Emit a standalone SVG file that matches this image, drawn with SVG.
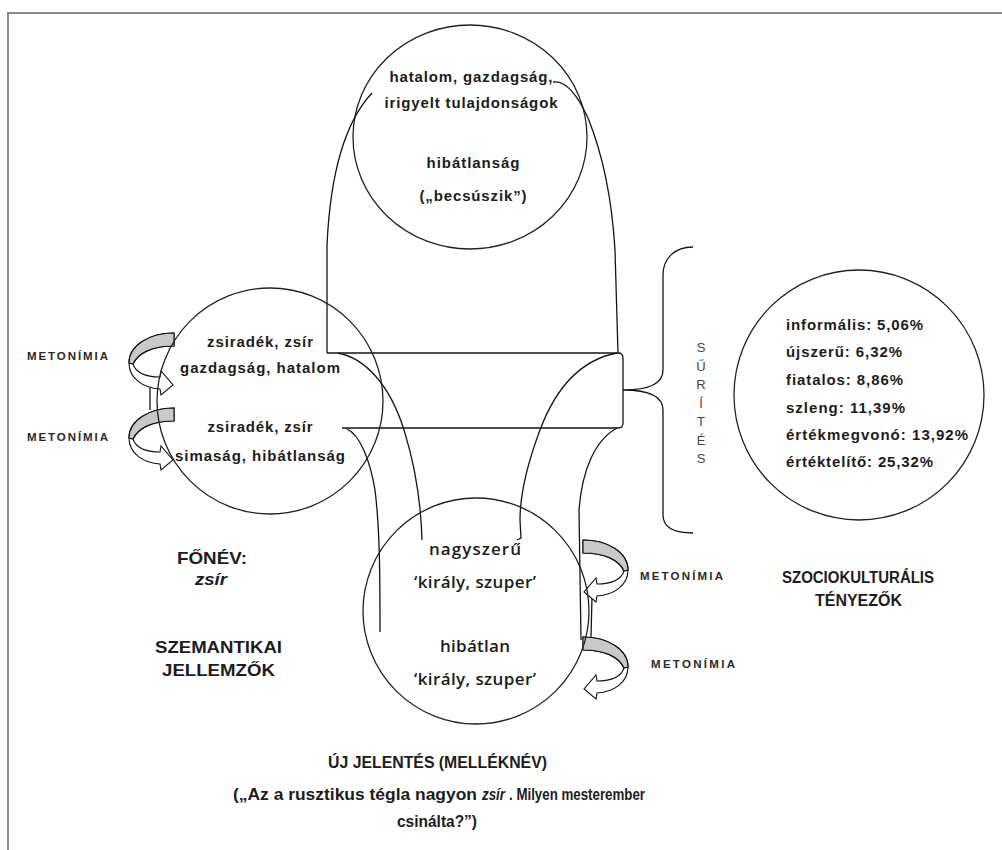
<svg xmlns="http://www.w3.org/2000/svg" xmlns:xlink="http://www.w3.org/1999/xlink" width="1002" height="850" viewBox="0 0 1002 850">
<style>
.frame{fill:none;stroke:#8a8a8a;stroke-width:2}
.ln{fill:none;stroke:#151515;stroke-width:1.3}
.c{fill:none;stroke:#222;stroke-width:1.3}
.aw{fill:#fff;stroke:#111;stroke-width:1.1}
.ag{fill:#c9c9c9;stroke:#111;stroke-width:1.1}
.t{font-family:"Liberation Sans",Arial,sans-serif;font-weight:bold;font-size:15px;fill:#1c1c1c;text-anchor:middle}
.r{font-family:"Liberation Sans",Arial,sans-serif;font-weight:bold;font-size:15px;fill:#1c1c1c}
.b{font-family:"Open Sans","Noto Sans",sans-serif;font-weight:600;font-size:17px;fill:#1c1c1c;text-anchor:middle}
.lab{font-family:"Liberation Sans",Arial,sans-serif;font-weight:bold;font-size:16px;fill:#1c1c1c;text-anchor:middle}
.labs{font-family:"Liberation Sans",Arial,sans-serif;font-weight:bold;font-size:16px;fill:#1c1c1c}
.met{font-family:"Liberation Sans",Arial,sans-serif;font-weight:bold;font-size:11.5px;fill:#2a2a2a}
.sur{font-family:"Liberation Sans",Arial,sans-serif;font-size:13px;fill:#444;text-anchor:middle}
</style>
<defs>
<g id="arr">
<path class="aw" d="M0,0 C24,0 45,12 45,30 C45,46 30,55 14,56 L13,62 L1,52 L13,38 L14,44 C28,44 38,40 41,31 C36,20 22,13 0,13 Z"/>
<path class="ag" d="M0,0 C24,0 45,12 45,30 L41,31 C36,20 22,13 0,13 Z"/>
</g>
</defs>
<rect width="1002" height="850" fill="#fff"/>
<path class="frame" d="M8,850 L8,13 L1002,13"/>

<g id="connectors">
<path class="ln" d="M327,353 L327,245 C330,180 342,125 372,93"/>
<path class="ln" d="M553,82 C566,80 578,96 588,118 C603,155 612,200 615,250 L618,353"/>
<path class="ln" d="M327,353 L618,353 Q623,353 623,358 L623,423 Q623,428 618,428 L342,428"/>
<path class="ln" d="M338,353 C365,358 390,385 404,430 C415,465 421,505 422,540"/>
<path class="ln" d="M347,429 C360,435 370,460 375,490 C380,530 380,580 380,632"/>
<path class="ln" d="M617,353 C580,360 555,390 540,430 C528,462 520,495 520,520 L521,538 L517,540"/>
<path class="ln" d="M617,428 C595,440 582,470 579,510 L581,640"/>
<path class="ln" d="M693,247 C675,247 663,258 663,275 L663,370 C663,383 650,390 623,390 C650,390 663,397 663,410 L663,515 C663,528 675,533 693,533"/>
<path class="ln" d="M150,383 L150,410"/>
<path class="ln" d="M592,597 L591,637"/>
<use xlink:href="#arr" href="#arr" transform="translate(174,333) scale(-1,1)"/>
<use xlink:href="#arr" href="#arr" transform="translate(174,408) scale(-1,1)"/>
<use xlink:href="#arr" href="#arr" transform="translate(583,540)"/>
<use xlink:href="#arr" href="#arr" transform="translate(583,637)"/>
</g>

<g id="node-top">
<ellipse class="c" cx="470" cy="137" rx="117" ry="112"/>
<text class="t" x="471" y="82" textLength="163">hatalom, gazdagság,</text>
<text class="t" x="471" y="108" textLength="173">irigyelt tulajdonságok</text>
<text class="t" x="473" y="168" textLength="93">hibátlanság</text>
<text class="t" x="473" y="201" textLength="107">(„becsúszik”)</text>
</g>

<g id="node-left">
<circle class="c" cx="270" cy="401" r="113"/>
<text class="t" x="260" y="347" textLength="106">zsiradék, zsír</text>
<text class="t" x="260" y="373" textLength="160">gazdagság, hatalom</text>
<text class="t" x="260" y="432" textLength="105">zsiradék, zsír</text>
<text class="t" x="260" y="461" textLength="170">simaság, hibátlanság</text>
</g>

<g id="node-bottom">
<circle class="c" cx="476" cy="611" r="113"/>
<text class="b" x="475" y="555" textLength="92">nagyszerű</text>
<text class="b" x="475" y="588" textLength="122">‘király, szuper’</text>
<text class="b" x="475" y="652" textLength="70">hibátlan</text>
<text class="b" x="475" y="685" textLength="122">‘király, szuper’</text>
</g>

<g id="node-right">
<circle class="c" cx="859" cy="395" r="125"/>
<text class="r" x="786" y="330" textLength="137">informális: 5,06%</text>
<text class="r" x="786" y="357" textLength="116">újszerű: 6,32%</text>
<text class="r" x="786" y="385" textLength="117">fiatalos: 8,86%</text>
<text class="r" x="786" y="413" textLength="119">szleng: 11,39%</text>
<text class="r" x="786" y="440" textLength="182">értékmegvonó: 13,92%</text>
<text class="r" x="786" y="467" textLength="147">értéktelítő: 25,32%</text>
</g>

<g id="label-surites">
<text class="sur" x="701" y="352">S</text>
<text class="sur" x="701" y="371">Ű</text>
<text class="sur" x="701" y="389">R</text>
<text class="sur" x="701" y="408">Í</text>
<text class="sur" x="701" y="426">T</text>
<text class="sur" x="701" y="445">É</text>
<text class="sur" x="701" y="463">S</text>
</g>

<g id="label-metonimia">
<text class="met" x="27" y="360" textLength="81">METONÍMIA</text>
<text class="met" x="27" y="441" textLength="81">METONÍMIA</text>
<text class="met" x="640" y="580" textLength="83">METONÍMIA</text>
<text class="met" x="651" y="668" textLength="84">METONÍMIA</text>
</g>

<g id="label-fonev">
<text class="lab" x="212" y="564" textLength="70" lengthAdjust="spacingAndGlyphs" style="font-size:17px">FŐNÉV:</text>
<text class="lab" x="211" y="585" textLength="32" lengthAdjust="spacingAndGlyphs" style="font-style:italic">zsír</text>
</g>

<g id="label-szemantikai">
<text class="lab" x="218.5" y="653" textLength="127" lengthAdjust="spacingAndGlyphs" style="font-size:17px">SZEMANTIKAI</text>
<text class="lab" x="218.5" y="676" textLength="113" lengthAdjust="spacingAndGlyphs" style="font-size:17px">JELLEMZŐK</text>
</g>

<g id="label-szocio">
<text class="lab" x="858" y="583" textLength="152" lengthAdjust="spacingAndGlyphs">SZOCIOKULTURÁLIS</text>
<text class="lab" x="858.5" y="606" textLength="87" lengthAdjust="spacingAndGlyphs">TÉNYEZŐK</text>
</g>

<g id="label-uj">
<text class="lab" x="437.5" y="768" textLength="219" lengthAdjust="spacingAndGlyphs">ÚJ JELENTÉS (MELLÉKNÉV)</text>
<text class="labs" x="233" y="800" textLength="244" lengthAdjust="spacingAndGlyphs">(„Az a rusztikus tégla nagyon</text>
<text class="labs" x="482" y="800" textLength="23" lengthAdjust="spacingAndGlyphs" style="font-style:italic">zsír</text>
<text class="labs" x="509" y="800" textLength="136" lengthAdjust="spacingAndGlyphs">. Milyen mesterember</text>
<text class="lab" x="437" y="827" textLength="80" lengthAdjust="spacingAndGlyphs">csinálta?”)</text>
</g>
</svg>
